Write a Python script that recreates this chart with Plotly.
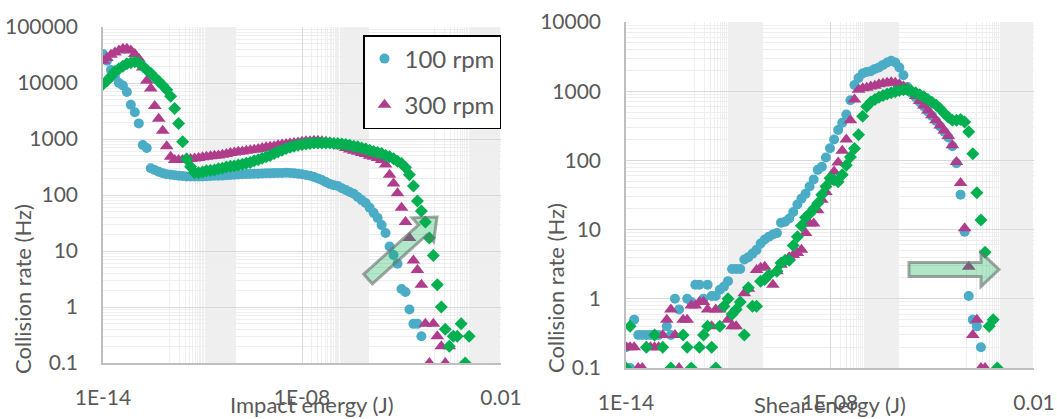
import plotly.graph_objects as go

# ---------------- data ----------------
# log10 of the energy bin centres (J), 0.12-decade bins
ENERGY_EXP = [-14.00, -13.88, -13.76, -13.64, -13.52, -13.40, -13.28, -13.16, -13.04, -12.92,
              -12.80, -12.68, -12.56, -12.44, -12.32, -12.20, -12.08, -11.96, -11.84, -11.72,
              -11.60, -11.48, -11.36, -11.24, -11.12, -11.00, -10.88, -10.76, -10.64, -10.52,
              -10.40, -10.28, -10.16, -10.04, -9.92, -9.80, -9.68, -9.56, -9.44, -9.32,
              -9.20, -9.08, -8.96, -8.84, -8.72, -8.60, -8.48, -8.36, -8.24, -8.12,
              -8.00, -7.88, -7.76, -7.64, -7.52, -7.40, -7.28, -7.16, -7.04, -6.92,
              -6.80, -6.68, -6.56, -6.44, -6.32, -6.20, -6.08, -5.96, -5.84, -5.72,
              -5.60, -5.48, -5.36, -5.24, -5.12, -5.00, -4.88, -4.76, -4.64, -4.52,
              -4.40, -4.28, -4.16, -4.04, -3.92, -3.80, -3.68, -3.56, -3.44, -3.32,
              -3.20, -3.08, -2.96, -2.84, -2.72, -2.60, -2.48, -2.36, -2.24, -2.12, -2.00]

# Impact energy panel (collision rate, Hz)
IMPACT_100 = [33000, 25000, 17000, 13000, 10000, 9000, 6900, 4100, 3000, 1900,
              780, 690, 300, 280, 260, 245, 235, 230, 225, 220,
              218, 215, 215, 214, 214, 215, 216, 218, 220, 220,
              222, 225, 228, 230, 232, 235, 236, 238, 240, 240,
              242, 244, 245, 246, 248, 248, 250, 248, 245, 240,
              235, 228, 220, 210, 198, 185, 170, 158, 150, 145,
              132, 123, 113, 105, 92, 81, 72, 59, 48, 39,
              29, 21, 12, 8.5, 5.9, 2.1, 1.85, 0.9, 0.5, 0.5,
              0.3]
IMPACT_300 = [25000, 28000, 32000, 35000, 38000, 41000, 41000, 38000, 33000, 27000,
              19000, 11000, 8000, 3900, 2300, 1400, 740, 480, 420, 420,
              420, 430, 440, 450, 460, 470, 480, 490, 500, 510,
              525, 540, 560, 575, 590, 600, 615, 630, 645, 660,
              690, 710, 725, 740, 775, 795, 810, 830, 850, 870,
              890, 910, 910, 930, 930, 910, 890, 870, 830, 790,
              740, 690, 650, 615, 590, 560, 540, 500, 480, 460,
              420, 350, 230, 160, 107, 59, 33, 17, 6.8, 4.6,
              2.5, 0.5, 0.1, 0.5, 0.3, 0.2, 0.1, 0.2]
IMPACT_3RD = [9500, 11000, 13000, 16000, 18000, 20000, 22000, 23000, 24000, 23000,
              20000, 17000, 15000, 12500, 10700, 9100, 7600, 5800, 3500, 1900,
              890, 440, 320, 250, 250, 257, 270, 275, 280, 295,
              300, 315, 325, 330, 345, 355, 370, 380, 410, 425,
              455, 480, 510, 550, 590, 630, 675, 710, 740, 775,
              795, 810, 830, 850, 850, 850, 850, 850, 830, 830,
              810, 795, 775, 740, 725, 690, 660, 630, 600, 575,
              550, 510, 480, 445, 400, 365, 310, 230, 145, 78,
              52, 33, 17, 8.3, 2.5, 1.0, 0.4, 0.2, 0.3, 0.3,
              0.5, 0.1, 0.3]

# Shear energy panel (collision rate, Hz)
SHEAR_100 = [0.2, 0.1, 0.5, 0.3, 0.3, 0.3, 0.3, 0.3, 0.3, None,
             0.4, 0.3, 1.0, 0.7, None, 1.0, 0.9, 1.6, 1.6, 1.0,
             1.6, 1.1, 1.1, 1.35, 1.5, 1.8, 2.7, 2.7, 2.7, 3.7,
             4.0, 4.5, 5.1, 6.3, 7.2, 7.9, 8.5, 8.9, 12.6, 13,
             14.5, 18, 23, 28, 33, 42, 53, 73, 81, 110,
             150, 200, 275, 350, 460, 740, 1230, 1550, 1800, 1900,
             1950, 2100, 2200, 2400, 2600, 2750, 2600, 2200, 1700, 1150,
             950, 820, 700, 600, 510, 440, 370, 310, 260, 215,
             160, 91, 32, 9.3, 1.1, 0.5, 0.4, 0.2]
SHEAR_300 = [0.2, 0.2, 0.2, 0.1, 0.1, None, 0.2, 0.2, 0.2, 0.3,
             0.5, 0.7, 0.3, 0.1, 0.5, 0.5, 0.8, 0.8, 0.9, 0.9,
             0.7, 0.4, 0.7, 0.7, None, 0.5, 0.4, 0.4, None, 1.2,
             1.4, None, 2.6, 2.8, 2.9, None, 1.6, 2.5, 3.1, 3.5,
             4.0, 4.3, 4.6, 5.1, 8.9, 12.3, 12.3, 19, 27, 35,
             49, 69, 93, 138, 200, 380, 760, 1050, 1100, 1120,
             1170, 1200, 1260, 1290, 1320, 1350, 1320, 1260, 1170, 1100,
             980, 850, 720, 620, 525, 450, 380, 320, 270, 225,
             166, 95, 47, 10.5, 2.9, 0.3, 0.5, 0.1, 0.1]
SHEAR_3RD = [0.1, 0.4, None, None, None, 0.2, None, 0.3, None, 0.2,
             None, 0.1, None, None, 0.3, 0.2, 0.1, None, 0.2, 0.3,
             0.4, 0.2, 0.1, 0.4, 0.78, 1.0, 0.6, 0.7, 0.9, 0.3,
             1.45, 0.78, 0.78, 1.8, 1.9, 2.2, None, 2.5, 3.3, 3.6,
             3.6, 5.9, 7.9, 11.4, 15, 17, 20, 24, 32, 42,
             55, 52, 49, 62, 85, 112, 148, 235, 435, 600,
             700, 760, 820, 870, 910, 950, 980, 1020, 1050, 1050,
             1000, 950, 890, 830, 760, 690, 630, 560, 480, 420,
             380, 380, 390, 360, 260, 125, 34, 13.8, 4.7, 0.4,
             0.5, 0.1]

X_TICK_VALS = [1e-14, 1e-8, 1e-2]
X_TICK_TEXT = ["1E-14", "1E-08", "0.01"]
Y1_TICK_VALS = [0.1, 1, 10, 100, 1000, 10000, 100000]
Y1_TICK_TEXT = ["0.1", "1", "10", "100", "1000", "10000", "100000"]
Y2_TICK_VALS = [0.1, 1, 10, 100, 1000, 10000]
Y2_TICK_TEXT = ["0.1", "1", "10", "100", "1000", "10000"]

SERIES_NAMES = ["100 rpm", "300 rpm", "third"]

# ---------------- styling ----------------
W, H = 1057, 419
BLUE = "#4bacc6"
MAGENTA = "#b03c8c"
GREEN = "#00b050"
TXT = "#595959"
FONT = "Lato"

energy = [10 ** e for e in ENERGY_EXP]


def pts(vals):
    xs, ys = [], []
    for e, v in zip(energy, vals):
        if v is not None:
            xs.append(e)
            ys.append(v)
    return xs, ys


fig = go.Figure()

styles = [
    dict(color=BLUE, symbol="circle", size=10),
    dict(color=MAGENTA, symbol="triangle-up", size=12),
    dict(color=GREEN, symbol="diamond", size=10),
]

for panel, series in (("1", [IMPACT_100, IMPACT_300, IMPACT_3RD]),
                      ("2", [SHEAR_100, SHEAR_300, SHEAR_3RD])):
    for k, vals in enumerate(series):
        xs, ys = pts(vals)
        fig.add_trace(go.Scatter(
            x=xs, y=ys, mode="markers",
            name=SERIES_NAMES[k],
            legendgroup=SERIES_NAMES[k],
            showlegend=(panel == "1" and k < 2),
            marker=dict(color=styles[k]["color"], symbol=styles[k]["symbol"],
                        size=styles[k]["size"], line=dict(width=0)),
            xaxis="x" if panel == "1" else "x2",
            yaxis="y" if panel == "1" else "y2",
            hoverinfo="skip",
        ))

# minor grid positions (Excel-like pattern)
x_minor = [k * base for base in (1e-12, 1e-8, 1e-4) for k in range(1, 101)]
y_minor = [k * 10.0 ** e for e in range(-1, 5) for k in range(2, 10)]


def px_x(p):
    return p / W


def px_y(p):
    return 1 - p / H


def xaxis(domain, anchor):
    return dict(type="log", range=[-14, -2], domain=domain, anchor=anchor,
                automargin=False,
                tickvals=X_TICK_VALS, ticktext=X_TICK_TEXT,
                tickfont=dict(family=FONT, size=21, color=TXT),
                showgrid=True, gridcolor="#d9d9d9", gridwidth=1,
                showline=True, linecolor="#bfbfbf", linewidth=1.5,
                ticks="", zeroline=False, ticklabelstandoff=15,
                minor=dict(tickvals=x_minor, showgrid=True,
                           gridcolor="#efefef", gridwidth=1, ticks=""))


def yaxis(domain, anchor, top, vals, text):
    return dict(type="log", range=[-1, top], domain=domain, anchor=anchor,
                automargin=False,
                tickvals=vals, ticktext=text,
                tickfont=dict(family=FONT, size=21, color=TXT),
                showgrid=True, gridcolor="#d9d9d9", gridwidth=1,
                showline=True, linecolor="#bfbfbf", linewidth=1.5,
                ticks="", zeroline=False, ticklabelstandoff=19,
                minor=dict(tickvals=y_minor, showgrid=True,
                           gridcolor="#eeeeee", gridwidth=1, ticks=""))


fig.update_layout(
    template="none",
    autosize=False,
    width=W, height=H, margin=dict(l=0, r=0, t=0, b=0, pad=0, autoexpand=False),
    paper_bgcolor="white", plot_bgcolor="white",
    font=dict(family=FONT, color=TXT),
    xaxis=xaxis([px_x(103), px_x(501)], "y"),
    yaxis=yaxis([px_y(363), px_y(27)], "x", 5, Y1_TICK_VALS, Y1_TICK_TEXT),
    xaxis2=xaxis([px_x(626), px_x(1034)], "y2"),
    yaxis2=yaxis([px_y(368), px_y(22)], "x2", 4, Y2_TICK_VALS, Y2_TICK_TEXT),
    legend=dict(x=px_x(501), y=px_y(35), xanchor="right", yanchor="top",
                bgcolor="white", bordercolor="black", borderwidth=1.5,
                font=dict(family=FONT, size=24, color=TXT),
                traceorder="grouped", tracegroupgap=12,
                itemsizing="trace"),
    showlegend=True,
)

# axis titles
for txt, x, y, ang in (("Collision rate (Hz)", 22, 289, -90),
                       ("Collision rate (Hz)", 555, 288, -90),
                       ("Impact energy (J)", 312, 404, 0),
                       ("Shear energy (J)", 830, 404, 0)):
    fig.add_annotation(text=txt, x=px_x(x), y=px_y(y), xref="paper", yref="paper",
                       showarrow=False, textangle=ang, xanchor="center", yanchor="middle",
                       font=dict(family=FONT, size=22, color=TXT))

# decorative arrows (pixel geometry)
ARROW_LEFT = [(372.3, 283.8), (427.2, 234.5), (433.6, 241.6), (437, 217),
              (412.2, 217.8), (418.6, 224.9), (363.7, 274.2)]
ARROW_RIGHT = [(909, 262.5), (981, 262.5), (981, 252.5), (999, 269.5),
               (981, 286.5), (981, 276.5), (909, 276.5)]
for poly in (ARROW_LEFT, ARROW_RIGHT):
    path = "M " + " L ".join(f"{px_x(a):.5f},{px_y(b):.5f}" for a, b in poly) + " Z"
    fig.add_shape(type="path", path=path, xref="paper", yref="paper",
                  fillcolor="rgba(0,176,80,0.30)",
                  line=dict(color="rgba(110,120,115,0.65)", width=3), layer="above")

fig.write_html("out.html", config={"displayModeBar": False},
               post_script="document.body.style.margin='0';document.body.style.overflow='hidden';")
